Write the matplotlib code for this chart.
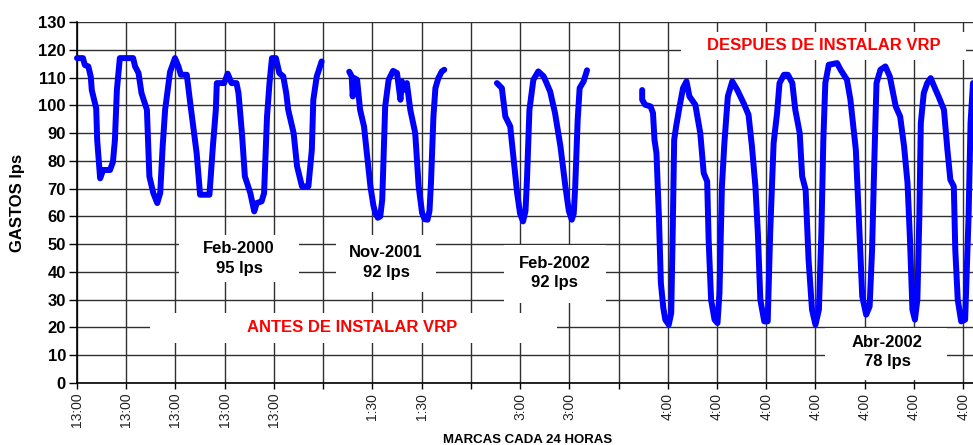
import numpy as np
import matplotlib.pyplot as plt
from matplotlib.patches import Rectangle

plt.rcParams['font.family'] = ['Liberation Sans', 'DejaVu Sans']

# marcas del eje x (una cada 24 horas)
etiquetas_x = ['13:00', '13:00', '13:00', '13:00', '13:00', '',
               '1:30', '1:30', '',
               '3:00', '3:00', '',
               '4:00', '4:00', '4:00', '4:00', '4:00', '4:00', '4:00']

# Feb-2000
x_feb2000 = [0.00, 0.12, 0.16, 0.23, 0.28, 0.30, 0.39, 0.41, 0.47, 0.53, 0.67, 0.73,
             0.77, 0.81, 0.87, 1.14, 1.18, 1.25, 1.31, 1.42, 1.47, 1.55, 1.63, 1.69,
             1.74, 1.79, 1.89, 1.99, 2.06, 2.11, 2.23, 2.30, 2.43, 2.50, 2.69, 2.76,
             2.82, 2.84, 2.99, 3.06, 3.14, 3.24, 3.28, 3.35, 3.41, 3.52, 3.60, 3.65,
             3.75, 3.80, 3.86, 3.91, 3.96, 4.04, 4.11, 4.19, 4.25, 4.29, 4.40, 4.47,
             4.57, 4.70, 4.77, 4.80, 4.87, 4.97]
y_feb2000 = [117, 117, 114.5, 114, 110.3, 105.5, 98.9, 87.5, 73.7, 76.7, 76.7, 79.6,
             87.5, 105.5, 117, 117, 114, 111.6, 104.4, 98.4, 74.4, 68.4, 64.8, 68.4,
             85.2, 98.4, 112, 117, 114, 111, 111, 100.8, 82.8, 67.8, 67.8, 85.2,
             98.4, 108, 108, 111.4, 108, 108, 104.4, 90, 74.4, 68.4, 61.8, 64.8,
             65.4, 68.4, 96, 108, 117, 117, 111.6, 110.4, 104.4, 98.4, 90, 78,
             70.8, 70.8, 84, 102, 110.4, 115.8]

# Nov-2001
x_nov2001 = [5.53, 5.58, 5.60, 5.63, 5.69, 5.75, 5.83, 5.88, 5.96, 6.02, 6.06, 6.11, 6.16, 6.20,
             6.23, 6.26, 6.33, 6.42, 6.50, 6.57, 6.60, 6.65, 6.70, 6.77, 6.87, 6.94, 7.01,
             7.06, 7.12, 7.16, 7.19, 7.24, 7.28, 7.34, 7.41, 7.46]
y_nov2001 = [112.1, 110.4, 103.2, 109.8, 109.2, 98.4, 92.4, 84, 70.8, 64, 61.2, 59.5, 60, 66,
             82.8, 99.6, 109.2, 112.4, 111.6, 102, 108.6, 105.6, 108, 98.4, 90, 70.8, 61.2,
             59, 58.8, 62, 72, 96, 106.2, 109.8, 112.2, 112.8]

# Feb-2002
x_feb2002 = [8.53, 8.63, 8.70, 8.80, 8.87, 8.94, 9.00, 9.06, 9.11, 9.14, 9.19, 9.27, 9.37,
             9.48, 9.61, 9.71, 9.82, 9.92, 9.99, 10.05, 10.09, 10.12, 10.17, 10.21, 10.29,
             10.36]
y_feb2002 = [108, 106.2, 96, 92.4, 80.4, 68.4, 61, 58.2, 62, 73.2, 98.4, 109.2, 112.2,
             110.4, 105, 97.2, 85.2, 70.8, 62, 58.8, 61, 70.8, 94.8, 106.2, 108.6,
             112.6]

# Abr-2002
x_abr2002 = [11.48, 11.48, 11.54, 11.65, 11.70, 11.73, 11.77, 11.82, 11.86, 11.91, 11.95, 12.02,
             12.07, 12.10, 12.13, 12.17, 12.24, 12.31, 12.38, 12.44, 12.56, 12.66, 12.73, 12.80,
             12.83, 12.88, 12.95, 13.01, 13.05, 13.10, 13.15, 13.22, 13.31, 13.41, 13.54,
             13.64, 13.71, 13.78, 13.83, 13.88, 13.96, 14.03, 14.08, 14.15, 14.22, 14.27,
             14.36, 14.44, 14.53, 14.59, 14.68, 14.73, 14.80, 14.86, 14.93, 15.00, 15.07,
             15.12, 15.16, 15.20, 15.27, 15.44, 15.51, 15.64, 15.71, 15.82, 15.88, 15.95,
             16.03, 16.10, 16.15, 16.20, 16.24, 16.32, 16.42, 16.51, 16.63, 16.72, 16.80,
             16.87, 16.92, 16.97, 17.02, 17.07, 17.11, 17.14, 17.20, 17.27, 17.34, 17.44,
             17.50, 17.61, 17.68, 17.74, 17.81, 17.84, 17.89, 17.96, 18.04, 18.11, 18.15,
             18.20]
y_abr2002 = [105.5, 102, 100.2, 99.6, 97.2, 87.6, 82.8, 60, 36, 27, 22.8, 21,
             25.2, 54, 87.6, 92.4, 99.6, 106.2, 108.6, 103.2, 100.2, 90, 75.6, 72.6,
             51.6, 30, 22.8, 21.6, 32.4, 70.8, 86.4, 103.2, 108.6, 105.6, 100.8,
             96.6, 85.2, 70.8, 54, 30, 22.2, 22.2, 54, 86.4, 97.2, 108,
             111, 111, 108, 98.4, 90, 74.4, 69.6, 44.4, 26.4, 21, 26.4,
             54, 87.6, 108, 114.6, 115.2, 112.8, 109.2, 102, 84, 60, 31.2,
             24.6, 27.6, 48, 82.8, 108, 112.8, 114, 110.4, 99.6, 96, 85.2,
             72, 51.6, 26.4, 22.8, 30, 60, 93.6, 104.4, 108, 109.8, 105.6,
             103.2, 98.4, 84, 73.2, 70.8, 48, 30, 22.2, 22.8, 60, 93.6,
             108]

fig = plt.figure(figsize=(9.73, 4.45), dpi=100)
ax = fig.add_axes([77 / 973, 62 / 445, 896 / 973, 361 / 445])

ax.set_xlim(0, 18.2)
ax.set_ylim(0, 130)

# cuadricula
ax.set_yticks(np.arange(0, 131, 10))
ax.set_xticks(np.arange(len(etiquetas_x)))
ax.set_xticklabels(etiquetas_x, rotation=90, fontsize=10, color='#222222')
for lbl in ax.get_yticklabels():
    lbl.set_fontsize(12)
    lbl.set_fontweight('bold')
ax.grid(True, color='#303030', linewidth=1.0)
ax.set_axisbelow(True)
ax.tick_params(axis='x', length=4, width=1, pad=3)
ax.tick_params(axis='y', length=6, width=1, pad=2)
for s in ['top', 'right']:
    ax.spines[s].set_visible(False)
ax.spines['left'].set_linewidth(1.2)
ax.spines['bottom'].set_linewidth(1.2)


def caja(x0, x1, y0, y1):
    # fondo blanco para los letreros
    ax.add_patch(Rectangle((x0, y0), x1 - x0, y1 - y0, facecolor='white',
                           edgecolor='none', zorder=1.5))


caja(12.26, 18.05, 116.3, 126.4)
caja(2.07, 4.51, 36.3, 53.3)
caja(1.48, 9.74, 14.4, 25.2)
caja(5.26, 7.30, 32.8, 53.3)
caja(8.68, 10.75, 28.8, 49.7)
caja(15.2, 17.68, 1.1, 19.8)

for xs, ys in [(x_feb2000, y_feb2000), (x_nov2001, y_nov2001),
               (x_feb2002, y_feb2002), (x_abr2002, y_abr2002)]:
    ax.plot(xs, ys, color='#0000FF', linewidth=4.3, solid_capstyle='round',
            solid_joinstyle='round', zorder=3, clip_on=False)

kw = dict(ha='center', va='center', fontsize=12, fontweight='bold', linespacing=1.35, zorder=4)
ax.text(3.29, 44.8, 'Feb-2000\n95 lps', **kw)
ax.text(6.28, 43.4, 'Nov-2001\n92 lps', **kw)
ax.text(9.70, 39.6, 'Feb-2002\n92 lps', **kw)
ax.text(16.46, 11.2, 'Abr-2002\n78 lps', **kw)
ax.text(5.59, 20, 'ANTES DE INSTALAR VRP', color='#FF0000', **kw)
ax.text(15.16, 121.5, 'DESPUES DE INSTALAR VRP', color='#FF0000', **kw)

ax.set_ylabel('GASTOS lps', fontsize=12, fontweight='bold')
ax.yaxis.set_label_coords(-0.058, 0.5)
fig.text(528 / 973, 1 - 434 / 445, 'MARCAS CADA 24 HORAS', ha='center', va='top',
         fontsize=9.5, fontweight='bold')

plt.savefig('out.png', dpi=100)
